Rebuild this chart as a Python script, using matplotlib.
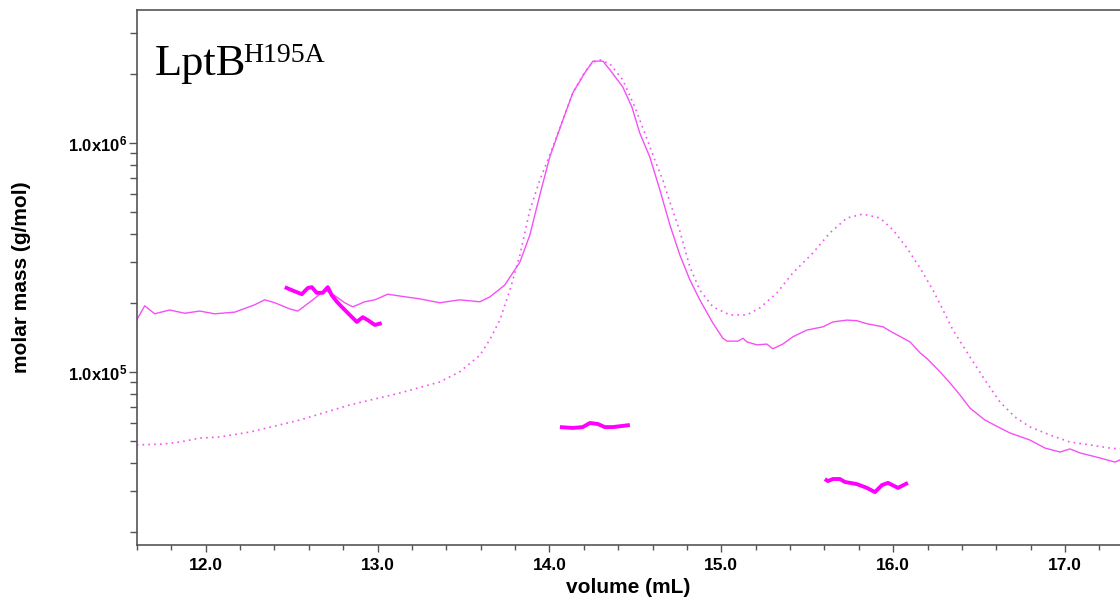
import matplotlib
matplotlib.use("Agg")
import matplotlib.pyplot as plt
from matplotlib.ticker import FixedLocator, FixedFormatter, MultipleLocator, LogLocator, NullFormatter

plt.rcParams['font.family'] = ['Liberation Sans', 'DejaVu Sans']
plt.rcParams['mathtext.fontset'] = 'custom'
plt.rcParams['mathtext.bf'] = 'Liberation Sans:bold'
plt.rcParams['mathtext.rm'] = 'Liberation Sans:bold'
plt.rcParams['mathtext.default'] = 'bf'

# Trace 1 (solid): volume (mL) and molar mass (g/mol)
solid_vol = [11.598, 11.645, 11.703, 11.790, 11.878, 11.965, 12.052, 12.169, 12.285, 12.343,
             12.402, 12.489, 12.536, 12.623, 12.693, 12.739, 12.809, 12.856, 12.925, 12.984,
             13.059, 13.129, 13.246, 13.362, 13.478, 13.595, 13.653, 13.740, 13.828, 13.886,
             13.944, 14.002, 14.072, 14.136, 14.206, 14.253, 14.311, 14.352, 14.427, 14.480,
             14.526, 14.584, 14.643, 14.701, 14.759, 14.817, 14.875, 14.951, 15.009, 15.033,
             15.097, 15.126, 15.149, 15.207, 15.265, 15.300, 15.358, 15.416, 15.498, 15.591,
             15.650, 15.731, 15.789, 15.847, 15.941, 15.999, 16.098, 16.156, 16.203, 16.272,
             16.331, 16.389, 16.447, 16.534, 16.622, 16.680, 16.796, 16.884, 16.971, 17.029,
             17.087, 17.204, 17.291, 17.320]
solid_mass = [1.68e5, 1.94e5, 1.79e5, 1.86e5, 1.80e5, 1.84e5, 1.79e5, 1.82e5, 1.96e5, 2.06e5,
              2.00e5, 1.88e5, 1.84e5, 2.06e5, 2.27e5, 2.18e5, 2.00e5, 1.92e5, 2.02e5, 2.06e5,
              2.18e5, 2.14e5, 2.08e5, 2.00e5, 2.06e5, 2.02e5, 2.12e5, 2.39e5, 3.01e5, 3.95e5,
              5.91e5, 8.66e5, 1.22e6, 1.65e6, 2.02e6, 2.27e6, 2.27e6, 2.08e6, 1.75e6, 1.43e6,
              1.10e6, 8.66e5, 6.21e5, 4.37e5, 3.23e5, 2.52e5, 2.06e5, 1.63e5, 1.40e5, 1.36e5,
              1.36e5, 1.40e5, 1.35e5, 1.31e5, 1.32e5, 1.26e5, 1.32e5, 1.42e5, 1.52e5, 1.57e5,
              1.65e5, 1.68e5, 1.67e5, 1.62e5, 1.57e5, 1.48e5, 1.35e5, 1.21e5, 1.13e5, 1.00e5,
              8.93e4, 7.91e4, 6.94e4, 6.15e4, 5.68e4, 5.40e4, 5.03e4, 4.64e4, 4.46e4, 4.60e4,
              4.42e4, 4.20e4, 4.03e4, 4.12e4]

# Trace 2 (dotted)
dotted_vol = [11.598, 11.750, 11.849, 11.965, 12.081, 12.256, 12.547, 12.838, 13.129, 13.362,
              13.478, 13.595, 13.653, 13.711, 13.770, 13.828, 13.886, 13.944, 14.002, 14.072,
              14.136, 14.206, 14.253, 14.294, 14.352, 14.427, 14.497, 14.555, 14.613, 14.660,
              14.701, 14.759, 14.817, 14.875, 14.951, 15.050, 15.149, 15.225, 15.324, 15.416,
              15.533, 15.632, 15.731, 15.824, 15.923, 15.999, 16.080, 16.156, 16.232, 16.290,
              16.348, 16.447, 16.534, 16.622, 16.709, 16.796, 16.913, 17.029, 17.146, 17.262,
              17.320]
dotted_mass = [4.79e4, 4.83e4, 4.93e4, 5.13e4, 5.19e4, 5.45e4, 6.15e4, 7.16e4, 8.07e4, 9.02e4,
               9.99e4, 1.18e5, 1.38e5, 1.68e5, 2.27e5, 3.23e5, 5.08e5, 6.87e5, 8.84e5, 1.22e6,
               1.65e6, 2.04e6, 2.25e6, 2.30e6, 2.21e6, 1.88e6, 1.43e6, 1.10e6, 8.41e5, 6.87e5,
               5.50e5, 4.10e5, 2.87e5, 2.27e5, 1.92e5, 1.77e5, 1.77e5, 1.90e5, 2.21e5, 2.70e5,
               3.30e5, 4.04e5, 4.69e5, 4.88e5, 4.69e5, 4.16e5, 3.47e5, 2.84e5, 2.27e5, 1.86e5,
               1.52e5, 1.16e5, 9.20e4, 7.37e4, 6.34e4, 5.74e4, 5.29e4, 4.93e4, 4.79e4, 4.64e4,
               4.60e4]

# Molar mass readings across the three peaks
seg1_vol = [12.460, 12.501, 12.559, 12.594, 12.617, 12.646, 12.681, 12.710, 12.733, 12.763,
            12.797, 12.838, 12.879, 12.914, 12.943, 12.984, 13.024]
seg1_mass = [2.34e5, 2.27e5, 2.18e5, 2.32e5, 2.34e5, 2.21e5, 2.21e5, 2.34e5, 2.16e5, 2.02e5,
             1.90e5, 1.77e5, 1.65e5, 1.73e5, 1.68e5, 1.60e5, 1.63e5]
seg2_vol = [14.061, 14.136, 14.194, 14.235, 14.282, 14.322, 14.369, 14.468]
seg2_mass = [5.73e4, 5.68e4, 5.73e4, 5.97e4, 5.91e4, 5.73e4, 5.73e4, 5.85e4]
seg3_vol = [15.603, 15.620, 15.650, 15.690, 15.719, 15.789, 15.847, 15.894, 15.935, 15.970,
            16.028, 16.086]
seg3_mass = [3.40e4, 3.33e4, 3.40e4, 3.40e4, 3.30e4, 3.23e4, 3.11e4, 2.98e4, 3.20e4, 3.27e4,
             3.11e4, 3.27e4]

x_major = [12.0, 13.0, 14.0, 15.0, 16.0, 17.0]
x_labels = ['12.0', '13.0', '14.0', '15.0', '16.0', '17.0']
y_major = [1e5, 1e6]
y_labels = ['1.0x10$^{5}$', '1.0x10$^{6}$']

W, H = 1120, 601
fig = plt.figure(figsize=(W / 100, H / 100), dpi=100)
ax = fig.add_axes([137 / W, 1 - 545 / H, 1 - 137 / W, (545 - 10) / H])

magenta = '#ff00ff'
ax.plot(solid_vol, solid_mass, color='#f550f5', lw=1.0)
ax.plot(dotted_vol, dotted_mass, color='#f550f5', lw=1.2, ls=(0, (1, 2.5)))
for v, m in [(seg1_vol, seg1_mass), (seg2_vol, seg2_mass), (seg3_vol, seg3_mass)]:
    ax.plot(v, m, color=magenta, lw=2.8, solid_capstyle='butt')

ax.set_yscale('log')
ax.set_xlim(11.6, 17.32)
ax.set_ylim(1.751e4, 3.797e6)

ax.xaxis.set_major_locator(FixedLocator(x_major))
ax.xaxis.set_major_formatter(FixedFormatter(x_labels))
ax.xaxis.set_minor_locator(MultipleLocator(0.2))
ax.yaxis.set_major_locator(FixedLocator(y_major))
ax.yaxis.set_major_formatter(FixedFormatter(y_labels))
ax.yaxis.set_minor_locator(LogLocator(base=10, subs=range(2, 10)))
ax.yaxis.set_minor_formatter(NullFormatter())

spine_c = '#555555'
for s in ['left', 'bottom', 'top']:
    ax.spines[s].set_color(spine_c)
    ax.spines[s].set_linewidth(1.2)
ax.spines['right'].set_visible(False)

ax.tick_params(axis='x', which='major', length=5, width=1, color=spine_c, pad=4,
               labelsize=12.5)
ax.tick_params(axis='x', which='minor', length=3.5, width=1, color=spine_c)
ax.tick_params(axis='y', which='major', length=6, width=1, color=spine_c, pad=1,
               labelsize=12)
ax.tick_params(axis='y', which='minor', length=5, width=1, color=spine_c)
for lab in ax.get_xticklabels() + ax.get_yticklabels():
    lab.set_fontweight('bold')

ax.set_xlabel('volume (mL)', fontsize=15, fontweight='bold', labelpad=4)
ax.set_ylabel('molar mass (g/mol)', fontsize=15, fontweight='bold', labelpad=27)

fig.text(155 / W, 1 - 75 / H, 'LptB', fontsize=32, family='Liberation Serif',
         va='baseline', ha='left')
fig.text(243 / W, 1 - 62 / H, 'H195A', fontsize=20, family='Liberation Serif',
         va='baseline', ha='left')

fig.savefig('out.png', dpi=100)
